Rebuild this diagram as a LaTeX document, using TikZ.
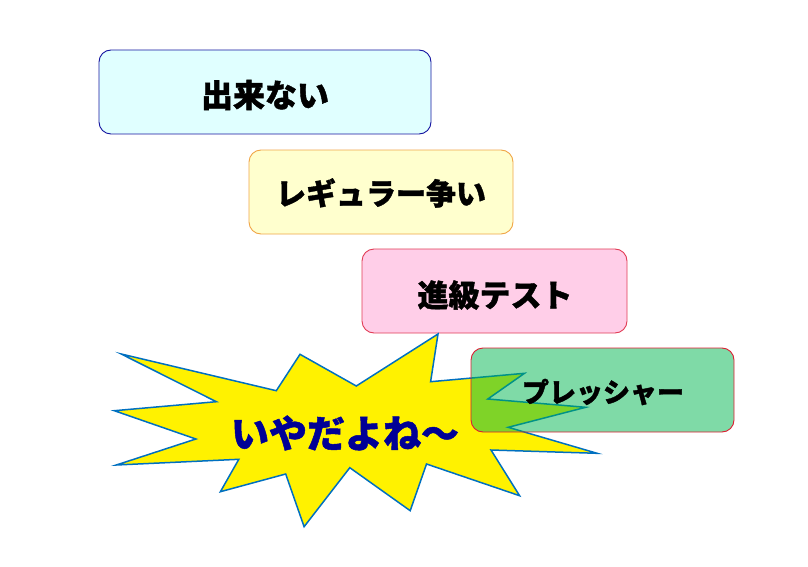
\documentclass[tikz,border=0pt]{standalone}
\usepackage{fontspec}
\newfontfamily\cjk{Noto Sans CJK JP}[BoldFeatures={FakeBold=1.3}]
\definecolor{bxonefill}{RGB}{224,255,255}
\definecolor{bxoneline}{RGB}{20,20,160}
\definecolor{bxtwofill}{RGB}{255,255,206}
\definecolor{bxtwoline}{RGB}{240,165,70}
\definecolor{bxthreefill}{RGB}{255,206,232}
\definecolor{bxthreeline}{RGB}{225,60,85}
\definecolor{bxfourfill}{RGB}{0,181,80}
\definecolor{bxfourline}{RGB}{220,30,50}
\definecolor{starline}{RGB}{0,112,192}
\definecolor{startext}{RGB}{0,0,150}
\tikzset{
  boxnode/.style={rounded corners=12pt, line width=0.9pt, minimum height=84pt, inner sep=0pt},
  boxtext/.style={font=\cjk\bfseries\fontsize{#1}{#1}\selectfont, text=black, inner sep=0pt},
}
\begin{document}
\begin{tikzpicture}[x=1pt,y=-1pt]
\useasboundingbox (0,0) rectangle (808,567);
\node[boxnode, draw=bxoneline, fill=bxonefill, minimum width=332pt] (b1) at (265,92) {};
\node[boxtext=32pt] (t1) at (265,95) {出来ない};
\node[boxnode, draw=bxtwoline, fill=bxtwofill, minimum width=264pt] (b2) at (381,192) {};
\node[boxtext=30pt] (t2) at (381,193) {レギュラー争い};
\node[boxnode, draw=bxthreeline, fill=bxthreefill, minimum width=265pt] (b3) at (494.5,291) {};
\node[boxtext=31pt] (t3) at (495,295) {進級テスト};
\draw[starline, fill=yellow, line width=1.5pt, line join=miter]
 (438,334) -- (430.6,381.7) -- (524.5,373.3) -- (487.8,399) -- (585.7,407.3)
 -- (508.2,427.3) -- (597.1,453.3) -- (491,450) -- (519.6,495.7) -- (426.5,464)
 -- (410.2,510.7) -- (349.8,467.7) -- (304.1,526.7) -- (285.7,474) -- (220.4,491.7)
 -- (238.8,459.3) -- (116.3,465) -- (195.9,439) -- (114.3,410.7) -- (216.3,401.7)
 -- (121.2,354) -- (276.3,390.7) -- (300,354.3) -- (356.3,386) -- cycle;
\node[boxnode, draw=bxfourline, fill=bxfourfill, fill opacity=0.5, minimum width=263pt] (b4) at (602.5,390) {};
\node[boxtext=27pt] (t4) at (603,392) {プレッシャー};
\node[boxtext=38pt, text=startext] (yada) at (345,433) {いやだよね～};
\end{tikzpicture}
\end{document}
